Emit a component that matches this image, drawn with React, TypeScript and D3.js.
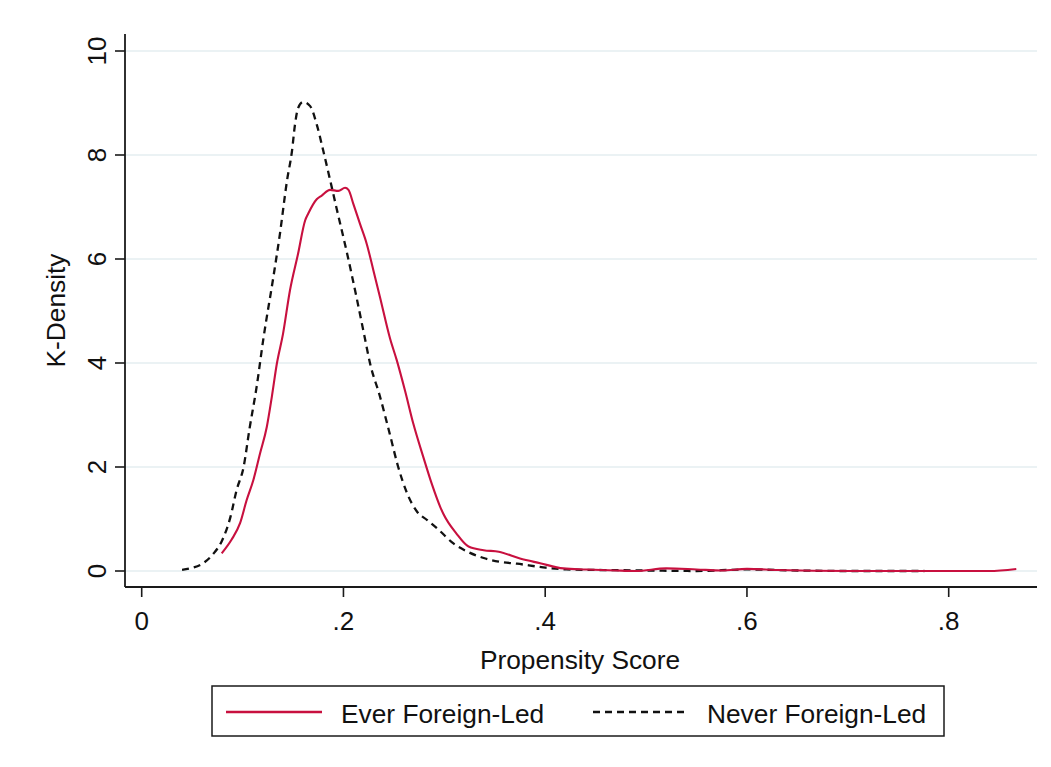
import React from "react";
import * as d3 from "d3";

// Propensity score grid (x) and kernel density values (y)
const everX = [0.0793, 0.089, 0.0975, 0.104, 0.1107, 0.1173, 0.124, 0.129, 0.134, 0.14, 0.147, 0.155, 0.162, 0.165, 0.1735, 0.1785, 0.1867, 0.195, 0.2016, 0.205, 0.2098, 0.2165, 0.2231, 0.2297, 0.2363, 0.2462, 0.2529, 0.261, 0.2693, 0.2792, 0.2875, 0.296, 0.299, 0.312, 0.324, 0.339, 0.354, 0.375, 0.395, 0.418, 0.441, 0.47, 0.49, 0.52, 0.55, 0.575, 0.6, 0.63, 0.7, 0.8, 0.84, 0.867];
const everY = [0.34, 0.6, 0.92, 1.36, 1.75, 2.26, 2.77, 3.35, 3.99, 4.55, 5.4, 6.1, 6.74, 6.87, 7.15, 7.22, 7.33, 7.31, 7.37, 7.33, 7.06, 6.67, 6.29, 5.78, 5.26, 4.47, 4.05, 3.47, 2.83, 2.19, 1.68, 1.23, 1.1, 0.72, 0.47, 0.4, 0.37, 0.24, 0.15, 0.05, 0.03, 0.01, 0.0, 0.05, 0.03, 0.01, 0.04, 0.02, 0.0, 0.0, 0.0, 0.04];

const neverX = [0.04, 0.05, 0.061, 0.071, 0.079, 0.088, 0.094, 0.101, 0.107, 0.114, 0.1205, 0.1305, 0.137, 0.144, 0.149, 0.152, 0.155, 0.16, 0.167, 0.1735, 0.18, 0.187, 0.193, 0.203, 0.213, 0.221, 0.2264, 0.236, 0.246, 0.254, 0.263, 0.273, 0.283, 0.294, 0.309, 0.322, 0.339, 0.354, 0.372, 0.398, 0.421, 0.45, 0.5, 0.55, 0.6, 0.65, 0.7, 0.776];
const neverY = [0.02, 0.06, 0.15, 0.33, 0.56, 1.04, 1.55, 2.0, 2.75, 3.55, 4.45, 5.65, 6.48, 7.5, 8.08, 8.59, 8.9, 9.02, 8.94, 8.59, 8.08, 7.5, 6.99, 6.16, 5.26, 4.5, 3.99, 3.37, 2.63, 2.02, 1.5, 1.14, 0.98, 0.8, 0.53, 0.38, 0.25, 0.18, 0.14, 0.07, 0.03, 0.02, 0.01, 0.0, 0.03, 0.01, 0.0, 0.0];

const xTicks = [0, 0.2, 0.4, 0.6, 0.8];
const xTickLabels = ["0", ".2", ".4", ".6", ".8"];
const yTicks = [0, 2, 4, 6, 8, 10];

const seriesNames = ["Ever Foreign-Led", "Never Foreign-Led"];

const FONT = "'Liberation Sans', Arial, Helvetica, sans-serif";
const RED = "#c8103f";

export default function App() {
  const plotLeft = 125;
  const plotRight = 1037;
  const plotTop = 34;
  const plotBottom = 587;

  const x = d3.scaleLinear().domain([0, 0.8]).range([141.7, 948.7]);
  const y = d3.scaleLinear().domain([0, 10]).range([571, 51]);

  const line = d3
    .line<[number, number]>()
    .x((d) => x(d[0]))
    .y((d) => y(d[1]))
    .curve(d3.curveMonotoneX);

  const everPts: [number, number][] = everX.map((v, i) => [v, everY[i]]);
  const neverPts: [number, number][] = neverX.map((v, i) => [v, neverY[i]]);

  return (
    <svg
      width={1051}
      height={767}
      style={{ position: "absolute", left: 0, top: 0, background: "#fff" }}
      fontFamily={FONT}
    >
      <rect x={0} y={0} width={1051} height={767} fill="#fff" />
      {/* grid */}
      {yTicks.map((t) => (
        <line
          key={"g" + t}
          x1={plotLeft}
          x2={plotRight}
          y1={y(t)}
          y2={y(t)}
          stroke="#e5eef0"
          strokeWidth={1.6}
        />
      ))}
      {/* curves */}
      <path d={line(neverPts) || ""} fill="none" stroke="#111" strokeWidth={2.3} strokeDasharray="7,5" />
      <path d={line(everPts) || ""} fill="none" stroke={RED} strokeWidth={2.1} />
      {/* axes */}
      <line x1={plotLeft} x2={plotLeft} y1={plotTop} y2={plotBottom} stroke="#1a1a1a" strokeWidth={1.8} />
      <line x1={plotLeft} x2={plotRight} y1={plotBottom} y2={plotBottom} stroke="#1a1a1a" strokeWidth={1.8} />
      {yTicks.map((t) => (
        <g key={"yt" + t}>
          <line x1={plotLeft - 10} x2={plotLeft} y1={y(t)} y2={y(t)} stroke="#1a1a1a" strokeWidth={1.6} />
          <text
            x={106}
            y={y(t)}
            transform={`rotate(-90, 106, ${y(t)})`}
            textAnchor="middle"
            fontSize={26}
            fill="#111"
          >
            {t}
          </text>
        </g>
      ))}
      {xTicks.map((t, i) => (
        <g key={"xt" + t}>
          <line x1={x(t)} x2={x(t)} y1={plotBottom} y2={plotBottom + 10} stroke="#1a1a1a" strokeWidth={1.6} />
          <text x={x(t)} y={629.5} textAnchor="middle" fontSize={26} fill="#111">
            {xTickLabels[i]}
          </text>
        </g>
      ))}
      <text x={(plotLeft + plotRight) / 2 - 1} y={668.5} textAnchor="middle" fontSize={26.3} fill="#111">
        Propensity Score
      </text>
      <text
        x={65}
        y={(plotTop + plotBottom) / 2}
        transform={`rotate(-90, 65, ${(plotTop + plotBottom) / 2})`}
        textAnchor="middle"
        fontSize={26.3}
        fill="#111"
      >
        K-Density
      </text>
      {/* legend */}
      <rect x={212} y={686} width={732} height={50} fill="#fff" stroke="#1a1a1a" strokeWidth={1.5} />
      <line x1={226} x2={322} y1={712} y2={712} stroke={RED} strokeWidth={2.3} />
      <text x={341} y={723} fontSize={26.3} fill="#111">
        {seriesNames[0]}
      </text>
      <line x1={593} x2={689} y1={712} y2={712} stroke="#111" strokeWidth={2.3} strokeDasharray="7,5" />
      <text x={707} y={723} fontSize={26.3} fill="#111">
        {seriesNames[1]}
      </text>
    </svg>
  );
}
